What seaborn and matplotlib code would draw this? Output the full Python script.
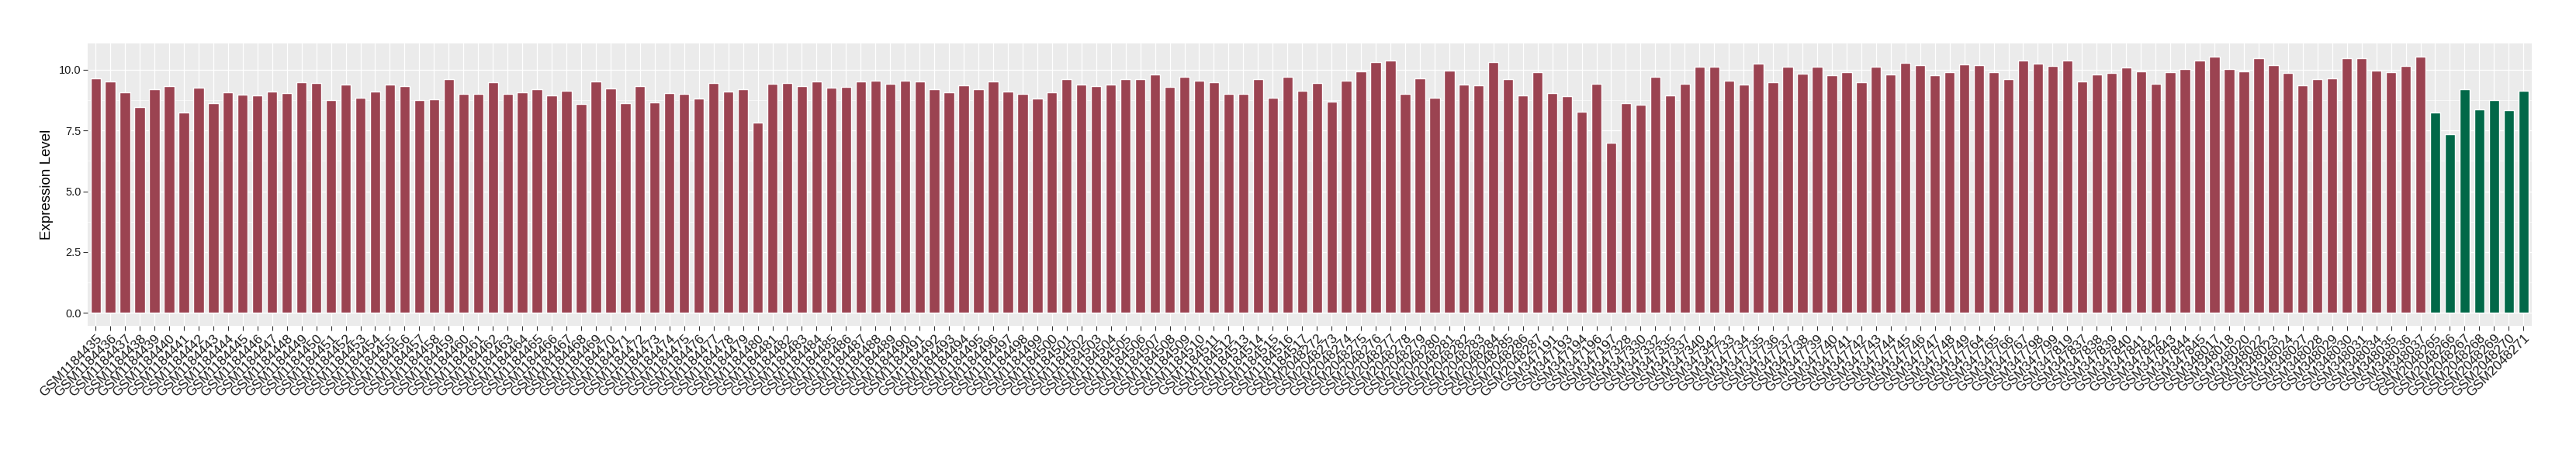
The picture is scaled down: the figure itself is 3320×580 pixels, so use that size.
import pandas as pd
import seaborn as sns
import matplotlib.pyplot as plt
from matplotlib.ticker import MultipleLocator


# sample ids, in plotting order
normal_ids = [
    'GSM1184435', 'GSM1184436', 'GSM1184437', 'GSM1184438', 'GSM1184439', 'GSM1184440',
    'GSM1184441', 'GSM1184442', 'GSM1184443', 'GSM1184444', 'GSM1184445', 'GSM1184446',
    'GSM1184447', 'GSM1184448', 'GSM1184449', 'GSM1184450', 'GSM1184451', 'GSM1184452',
    'GSM1184453', 'GSM1184454', 'GSM1184455', 'GSM1184456', 'GSM1184457', 'GSM1184458',
    'GSM1184459', 'GSM1184460', 'GSM1184461', 'GSM1184462', 'GSM1184463', 'GSM1184464',
    'GSM1184465', 'GSM1184466', 'GSM1184467', 'GSM1184468', 'GSM1184469', 'GSM1184470',
    'GSM1184471', 'GSM1184472', 'GSM1184473', 'GSM1184474', 'GSM1184475', 'GSM1184476',
    'GSM1184477', 'GSM1184478', 'GSM1184479', 'GSM1184480', 'GSM1184481', 'GSM1184482',
    'GSM1184483', 'GSM1184484', 'GSM1184485', 'GSM1184486', 'GSM1184487', 'GSM1184488',
    'GSM1184489', 'GSM1184490', 'GSM1184491', 'GSM1184492', 'GSM1184493', 'GSM1184494',
    'GSM1184495', 'GSM1184496', 'GSM1184497', 'GSM1184498', 'GSM1184499', 'GSM1184500',
    'GSM1184501', 'GSM1184502', 'GSM1184503', 'GSM1184504', 'GSM1184505', 'GSM1184506',
    'GSM1184507', 'GSM1184508', 'GSM1184509', 'GSM1184510', 'GSM1184511', 'GSM1184512',
    'GSM1184513', 'GSM1184514', 'GSM1184515', 'GSM1184516', 'GSM1184517',
    'GSM2048272', 'GSM2048273', 'GSM2048274', 'GSM2048275', 'GSM2048276', 'GSM2048277',
    'GSM2048278', 'GSM2048279', 'GSM2048280', 'GSM2048281', 'GSM2048282', 'GSM2048283',
    'GSM2048284', 'GSM2048285', 'GSM2048286', 'GSM2048287',
    'GSM347191', 'GSM347193', 'GSM347194', 'GSM347196', 'GSM347197',
    'GSM347328', 'GSM347330', 'GSM347332', 'GSM347335', 'GSM347337', 'GSM347340', 'GSM347342',
    'GSM347733', 'GSM347734', 'GSM347735', 'GSM347736', 'GSM347737', 'GSM347738',
    'GSM347739', 'GSM347740', 'GSM347741', 'GSM347742', 'GSM347743', 'GSM347744',
    'GSM347745', 'GSM347746', 'GSM347747', 'GSM347748', 'GSM347749',
    'GSM347764', 'GSM347765', 'GSM347766', 'GSM347767', 'GSM347798', 'GSM347799', 'GSM347819',
    'GSM347837', 'GSM347838', 'GSM347839', 'GSM347840', 'GSM347841', 'GSM347842',
    'GSM347843', 'GSM347844', 'GSM347845',
    'GSM348017', 'GSM348018', 'GSM348020', 'GSM348022', 'GSM348023', 'GSM348024',
    'GSM348027', 'GSM348028', 'GSM348029', 'GSM348030', 'GSM348031', 'GSM348034',
    'GSM348035', 'GSM348036', 'GSM348037',
]
tumor_ids = ['GSM2048265', 'GSM2048266', 'GSM2048267', 'GSM2048268',
             'GSM2048269', 'GSM2048270', 'GSM2048271']

normal_values = [
    9.65, 9.50, 9.07, 8.45, 9.19, 9.31, 8.23, 9.25, 8.63, 9.07, 8.97, 8.94,
    9.10, 9.03, 9.47, 9.44, 8.73, 9.37, 8.85, 9.10, 9.37, 9.31, 8.76, 8.79, 9.62, 9.00, 9.00,
    9.47, 9.00, 9.07, 9.19, 8.94, 9.13, 8.57, 9.52, 9.21, 8.63, 9.31, 8.66, 9.03, 9.00,
    8.82, 9.44, 9.10, 9.19, 7.83, 9.41, 9.44, 9.31, 9.50, 9.25, 9.28, 9.52, 9.55, 9.41, 9.55,
    9.50, 9.19, 9.07, 9.34, 9.19, 9.52, 9.10, 9.00, 8.82, 9.07, 9.59, 9.37, 9.31, 9.37, 9.59,
    9.59, 9.81, 9.28, 9.71, 9.55, 9.47, 9.00, 9.00, 9.59, 8.85, 9.71, 9.13,
    9.44, 8.69, 9.55, 9.93, 10.30, 10.36, 9.00, 9.65, 8.85, 9.96, 9.37, 9.34, 10.30, 9.59, 8.94, 9.89,
    9.03, 8.91, 8.26, 9.41, 7.00,
    8.63, 8.55, 9.71, 8.94, 9.41, 10.12, 10.12,
    9.55, 9.37, 10.23, 9.47, 10.12, 9.83, 10.12, 9.75, 9.89, 9.47, 10.12, 9.81,
    10.27, 10.17, 9.78, 9.89, 10.20,
    10.17, 9.89, 9.59, 10.36, 10.23, 10.15, 10.36,
    9.50, 9.81, 9.86, 10.08, 9.93, 9.41, 9.89, 10.02, 10.36,
    10.54, 10.02, 9.93, 10.46, 10.17, 9.86, 9.34, 9.62, 9.65, 10.46, 10.46, 9.96,
    9.89, 10.15, 10.54,
]
tumor_values = [8.23, 7.34, 9.19, 8.35, 8.76, 8.32, 9.13]

group_colors = {'Normal': '#9B4351', 'Tumor': '#016848'}


df = pd.DataFrame({
    'sample': normal_ids + tumor_ids,
    'expression': normal_values + tumor_values,
    'group': ['Normal'] * len(normal_ids) + ['Tumor'] * len(tumor_ids),
})

sns.set_theme(style='darkgrid', rc={
    'axes.facecolor': '#EBEBEB',
    'grid.color': 'white',
    'axes.edgecolor': '#EBEBEB',
})
plt.rcParams['font.family'] = ['Liberation Sans', 'DejaVu Sans']

fig = plt.figure(figsize=(33.2, 5.8), dpi=100)
ax = fig.add_axes([0.0339, 0.2759, 0.9489, 0.6275])

sns.barplot(data=df, x='sample', y='expression', hue='group', palette=group_colors,
            dodge=False, width=0.7, saturation=1, legend=False, ax=ax)

# ggplot-like panel: white major + thin minor grid
ax.yaxis.set_major_locator(MultipleLocator(2.5))
ax.yaxis.set_minor_locator(MultipleLocator(1.25))
ax.grid(which='major', color='white', linewidth=0.9)
ax.grid(which='minor', axis='y', color='white', linewidth=0.45)
ax.set_axisbelow(True)
for s in ax.spines.values():
    s.set_visible(False)

ax.set_xlim(-0.56, len(df) - 0.44)
ax.set_ylim(-0.527, 11.07)
ax.set_yticks([0, 2.5, 5, 7.5, 10])
ax.set_yticklabels(['0.0', '2.5', '5.0', '7.5', '10.0'])

ax.tick_params(axis='both', which='major', length=4, width=0.8, color='#333333',
               labelcolor='#1A1A1A', labelsize=10.5, pad=1.5, direction='out',
               bottom=True, left=True)
ax.tick_params(axis='x', labelsize=12.5, pad=2)
ax.tick_params(which='minor', length=0)
plt.setp(ax.get_xticklabels(), rotation=45, ha='right', rotation_mode='anchor')

ax.set_xlabel('')
ax.set_ylabel('Expression Level', fontsize=13.5, color='black', labelpad=5)

plt.savefig('out.png', dpi=100)
